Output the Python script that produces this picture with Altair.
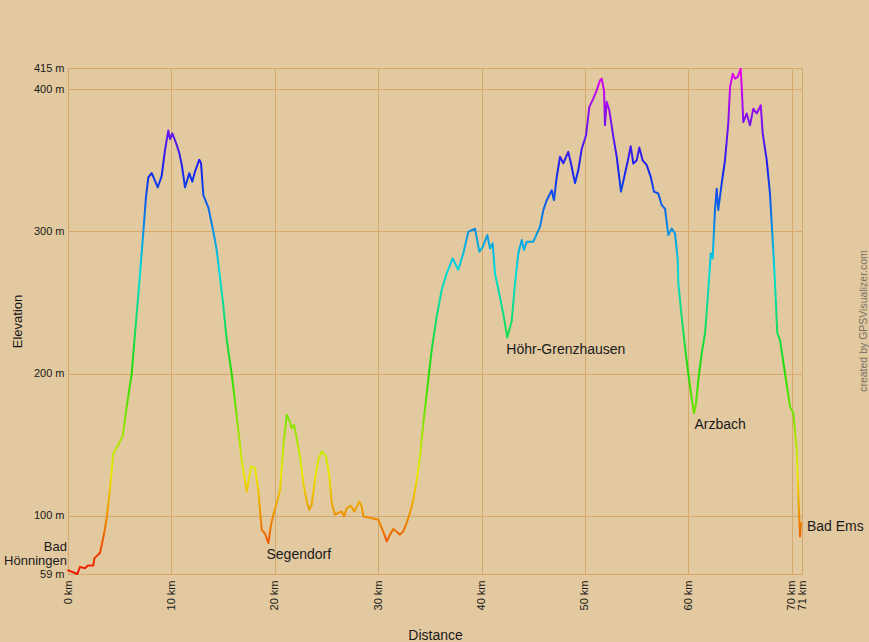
import altair as alt
import pandas as pd

# Track profile: distance (km) and elevation (m)
km = [0.03, 0.90, 1.16, 1.64, 1.93, 2.45, 2.54, 3.10, 3.51, 3.77, 4.06, 4.38, 4.87, 5.29, 5.68,
      6.16, 6.48, 6.80, 7.28, 7.54, 7.77, 8.10, 8.68, 9.06, 9.38, 9.70, 9.87, 10.09, 10.51, 10.77,
      11.00, 11.32, 11.73, 12.02, 12.28, 12.70, 12.87, 13.09, 13.57, 14.06, 14.38, 14.96, 15.35,
      15.83, 16.32, 16.80, 17.29, 17.70, 18.09, 18.41, 18.74, 19.06, 19.38, 19.61, 19.86, 20.19,
      20.51, 20.83, 21.16, 21.47, 21.64, 21.86, 22.12, 22.44, 22.76, 23.09, 23.34, 23.57, 23.89,
      24.21, 24.54, 24.96, 25.28, 25.51, 25.83, 26.15, 26.48, 26.70, 26.96, 27.35, 27.69, 28.18,
      28.41, 28.57, 28.89, 30.02, 30.34, 30.60, 30.83, 31.15, 31.47, 31.73, 32.11, 32.43, 32.76,
      33.08, 33.40, 33.73, 34.05, 34.37, 34.85, 35.18, 35.66, 36.15, 36.63, 37.21, 37.75, 38.24,
      38.72, 39.37, 39.79, 40.11, 40.56, 40.82, 41.08, 41.30, 41.79, 42.11, 42.49, 42.92, 43.24,
      43.56, 43.89, 44.11, 44.37, 45.01, 45.66, 45.98, 46.31, 46.79, 47.01, 47.27, 47.59, 47.91,
      48.39, 48.65, 49.04, 49.36, 49.69, 50.11, 50.43, 50.81, 51.14, 51.46, 51.62, 51.85, 51.94,
      52.11, 52.36, 52.75, 53.08, 53.49, 53.88, 54.20, 54.43, 54.68, 55.01, 55.26, 55.59, 55.98,
      56.37, 56.68, 57.10, 57.43, 57.75, 58.07, 58.40, 58.72, 58.98, 59.04, 59.36, 59.68, 60.00,
      60.33, 60.55, 60.75, 60.97, 61.30, 61.62, 61.94, 62.17, 62.36, 62.58, 62.75, 62.90, 63.23,
      63.55, 63.87, 64.04, 64.30, 64.52, 64.78, 65.07, 65.20, 65.32, 65.65, 65.97, 66.29, 66.62,
      67.01, 67.20, 67.59, 67.90, 68.22, 68.39, 68.61, 68.87, 69.36, 69.84, 70.16, 70.49, 70.64,
      70.74, 70.81, 70.90]
elev = [61.6, 59, 64, 63, 65, 65, 70, 74, 88, 100, 119, 144, 150, 156, 177,
        200, 228, 255, 299, 324, 338, 341, 331, 339, 357, 371, 365, 369, 361, 355,
        347, 331, 341, 335, 342, 350.5, 348, 325.5, 317, 300, 287, 252, 224,
        200, 170, 139, 117, 134.6, 133.5, 118, 90, 87.4, 80.8, 92.5, 100.7, 109,
        118, 149, 171, 166, 161.6, 164, 154.6, 141.7, 123, 110, 104.2, 107.7, 125.3,
        139.3, 145.2, 141.7, 127.6, 109, 100.7, 102, 103, 99.5, 105.4, 107, 103, 110,
        106.5, 99.5, 99.1, 97.2, 91.4, 86.7, 82, 86.7, 90.6, 89, 86.7, 89, 95,
        102, 111, 125, 141.7, 165, 195.6, 216.6, 240, 259, 270.5, 281, 273, 284.6,
        299.7, 302, 285.7, 289, 297.4, 288, 291.6, 270.5, 253.5, 241.8, 225.4, 237, 263.5,
        284.6, 294, 287, 292.8, 292.8, 303.3, 315, 322, 329, 322, 338, 352.5, 348,
        356, 348, 334, 343, 358, 367.7, 387.6, 393.5, 399.3, 406.3, 407.5, 399.3, 374.7,
        391.2, 385.3, 366.6, 352.5, 328, 340.8, 351.3, 360, 347.8, 350, 359, 350, 346.6,
        338.4, 328, 326.7, 318.5, 316, 297.4, 302, 298.6, 280, 263.5, 240, 219, 200,
        182.6, 172, 179, 195.6, 214.3, 228.4, 258.8, 284.6, 281, 315, 330, 315, 333.7,
        350, 376, 401.6, 411, 407.5, 408.6, 414.5, 397, 377, 383, 374.7, 386.4, 383,
        388.8, 369, 350, 326.7, 287, 263.5, 228.4, 223.7, 200, 176.8, 172, 146.4, 116,
        97.2, 85.5, 94.9]

# Waypoints
wp_names = ["Segendorf", "Höhr-Grenzhausen", "Arzbach"]
wp_km = [19.2, 42.4, 60.6]
wp_elev = [81, 225, 172]

start_name = ["Bad\nHönningen"]
start_km = [0.0]
start_elev = [61]

end_name = ["Bad Ems"]
end_km = [70.9]
end_elev = [95]

x_ticks = [0, 10, 20, 30, 40, 50, 60, 70, 71]
y_ticks = [59, 100, 200, 300, 400, 415]

# elevation-coloured gradient: red (low) -> yellow -> green -> cyan -> blue -> magenta (high)
grad_colors = ["#ee1500", "#eaea00", "#22dd00", "#00dcdc", "#1422ee", "#ee00ee"]
grad_offsets = [0.0, 0.2, 0.4, 0.6, 0.8, 1.0]

track = pd.DataFrame({"km": km, "elev": elev})

FONT = "Liberation Sans"
GRID = "#D5A86B"
TXT = "#1a1a1a"

xscale = alt.Scale(domain=[0, 71], nice=False, zero=False)
yscale = alt.Scale(domain=[59, 415], nice=False, zero=False)

xaxis = alt.Axis(values=x_ticks, labelExpr="datum.value + ' km'", grid=True, gridColor=GRID,
                 gridWidth=1, domain=False, ticks=False, labelAngle=270, labelPadding=6,
                 labelFontSize=11, labelFont=FONT, labelColor=TXT, labelOverlap=False,
                 labelFlush=False, labelBound=False, title="Distance", titleFont=FONT,
                 titleFontSize=14, titleFontWeight="normal", titleColor=TXT,
                 titleY=61, titleX=367, titleBaseline="middle", titleAlign="center")
yaxis = alt.Axis(values=y_ticks, labelExpr="datum.value + ' m'", grid=True, gridColor=GRID,
                 gridWidth=1, domain=False, ticks=False, labelPadding=4,
                 labelFontSize=11, labelFont=FONT, labelColor=TXT, labelOverlap=False,
                 labelFlush=False, labelBound=False, title="Elevation", titleFont=FONT,
                 titleFontSize=13, titleFontWeight="normal", titleColor=TXT,
                 titleX=-51, titleY=253, titleAngle=270, titleBaseline="middle",
                 titleAlign="center")

gradient = alt.Gradient(
    gradient="linear",
    stops=[alt.GradientStop(color=c, offset=o) for c, o in zip(grad_colors, grad_offsets)],
    x1=0, x2=0, y1=1, y2=0,
)

line = alt.Chart(track).mark_line(strokeWidth=2, strokeJoin="round", strokeCap="round",
                                  stroke=gradient).encode(
    x=alt.X("km:Q", scale=xscale, axis=xaxis),
    y=alt.Y("elev:Q", scale=yscale, axis=yaxis),
)

wp = pd.DataFrame({"name": wp_names, "km": wp_km, "elev": wp_elev})
wp_text = alt.Chart(wp).mark_text(align="left", baseline="middle", dy=12, fontSize=14,
                                  font=FONT, color=TXT).encode(
    x="km:Q", y="elev:Q", text="name:N")

st = pd.DataFrame({"name": start_name, "km": start_km, "elev": start_elev})
st_text = alt.Chart(st).mark_text(align="right", baseline="bottom", dx=-1, dy=-17, fontSize=13,
                                  font=FONT, color=TXT, lineBreak="\n", lineHeight=14).encode(
    x="km:Q", y="elev:Q", text="name:N")

en = pd.DataFrame({"name": end_name, "km": end_km, "elev": end_elev})
en_text = alt.Chart(en).mark_text(align="left", baseline="middle", dx=6, dy=4, fontSize=14,
                                  font=FONT, color=TXT).encode(
    x="km:Q", y="elev:Q", text="name:N")

credit = alt.Chart(pd.DataFrame({"t": ["created by GPSVisualizer.com"]})).mark_text(
    angle=270, align="center", baseline="middle", fontSize=10.5, font=FONT, color="#7a7268"
).encode(x=alt.value(796), y=alt.value(253), text="t:N")

chart = alt.layer(line, wp_text, st_text, en_text, credit).properties(
    width=734, height=506,
    background="#E3C9A0",
    autosize=alt.AutoSizeParams(type="none"),
    padding={"left": 68, "top": 68, "right": 67, "bottom": 68},
).configure_view(strokeWidth=0)

chart.save("out.html", embed_options={"renderer": "svg", "actions": False})
